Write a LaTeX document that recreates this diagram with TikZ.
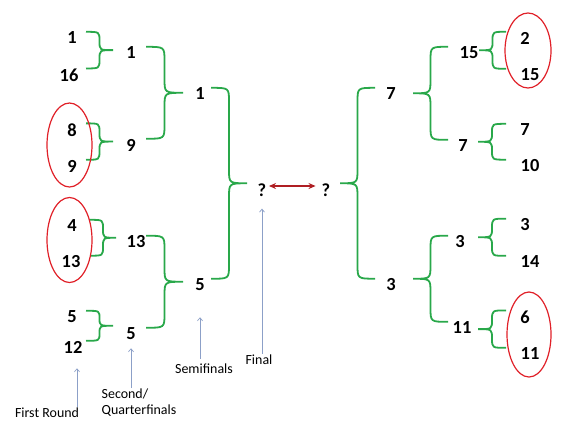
\documentclass[tikz,border=0pt]{standalone}
\usepackage{fontspec}
\setmainfont{Carlito}
\usetikzlibrary{calc}
\usetikzlibrary{arrows.meta}

\definecolor{bracketgreen}{RGB}{41,168,74}
\definecolor{ringred}{RGB}{224,32,40}
\definecolor{arrowred}{RGB}{175,30,35}
\definecolor{pointerblue}{RGB}{140,160,200}

%% curly bracket joining two entries
%% #1,#2: upper and lower entry, #3: x of the ends, #4: x of the tip
\newcommand{\mybracket}[4]{%
  \draw[bracket] let \p1=(#1.north), \p2=(#2.north), \p3=(#3,0), \p4=(#4,0),
        \n1={(\y1+\y2)/2}, \n2={(\x3+\x4)/2}, \n3={min(14pt,(\y1-\y2)/4)} in
    (\x3,\y1) .. controls (\n2,\y1) .. (\n2,\y1-\n3)
    -- (\n2,\n1+\n3) .. controls (\n2,\n1) .. (\x4,\n1)
    .. controls (\n2,\n1) .. (\n2,\n1-\n3)
    -- (\n2,\y2+\n3) .. controls (\n2,\y2) .. (\x3,\y2);
}

\begin{document}
\begin{tikzpicture}[x=1bp,y=-1bp,
  team/.style={font=\bfseries\fontsize{18.5}{20}\selectfont, inner sep=0pt},
  label/.style={font=\fontsize{14}{16}\selectfont, inner sep=1pt, align=left},
  bracket/.style={draw=bracketgreen, line width=1.8bp},
  ring/.style={draw=ringred, line width=1.2bp},
  pointer/.style={draw=pointerblue, line width=0.7bp,
                  -{Straight Barb[length=3bp,width=5bp]}},
  final/.style={draw=arrowred, line width=1.6bp,
                {Stealth[length=7bp,width=6bp]}-{Stealth[length=7bp,width=6bp]}}]

  \useasboundingbox (0,0) rectangle (584,430);

  %% the entries, round by round
  \foreach \myname/\mytext/\myx/\myy in {
      a1/1/72/38, a16/16/69/75, a8/8/72/130, a9/9/72/166,
      a4/4/72/226, a13/13/71/262, a5/5/72/317, a12/12/73/347,
      b1/1/131/53, b9/9/131/145, b13/13/136/242, b5/5/131/334,
      c1/1/200/94, c5/5/200/285,
      fl/?/262/190, fr/?/326/190,
      c7/7/391/94, c3/3/391/285,
      b15/15/469/53, b7/7/463/146, b3/3/460/242, b11/11/462/328,
      a2/2/525/38, a15/15/530/75, a7/7/525/130, a10/10/530/166,
      a3/3/525/225, a14/14/530/262, a6/6/525/317, a11/11/530/354}
  {
    \node[team] (\myname) at (\myx,\myy) {\mytext};
  }

  %% left half
  \mybracket{a1}{a16}{86}{113}
  \mybracket{a8}{a9}{86}{113}
  \mybracket{a4}{a13}{90}{116}
  \mybracket{a5}{a12}{86}{113}
  \mybracket{b1}{b9}{146}{183}
  \mybracket{b13}{b5}{146}{183}
  \mybracket{c1}{c5}{211}{247}

  %% right half
  \mybracket{c7}{c3}{375}{340}
  \mybracket{b15}{b7}{448}{413}
  \mybracket{b3}{b11}{448}{413}
  \mybracket{a2}{a15}{506}{479}
  \mybracket{a7}{a10}{506}{478}
  \mybracket{a3}{a14}{506}{478}
  \mybracket{a6}{a11}{506}{478}

  %% upsets
  \draw[ring] ($(a8)!0.5!(a9)+(-2.5,-3)$) ellipse [x radius=22.5bp, y radius=42bp];
  \draw[ring] ($(a4)!0.5!(a13)+(-2,-4)$) ellipse [x radius=22.5bp, y radius=42.5bp];
  \draw[ring] ($(a2)!0.5!(a15)+(0.5,-6)$) ellipse [x radius=23bp, y radius=37.5bp];
  \draw[ring] ($(a6)!0.5!(a11)+(1.5,-1)$) ellipse [x radius=22bp, y radius=42.5bp];

  %% the final
  \draw[final, shorten <=2.5bp, shorten >=6bp]
    ([yshift=4bp]fl.east) -- ([yshift=4bp]fr.west);

  %% round labels
  \node[label] (lFirst) at (47,413) {First Round};
  \node[label] (lSecond) at (139,403) {Second/\\Quarterfinals};
  \node[label] (lSemi) at (204,369) {Semifinals};
  \node[label] (lFinal) at (259,360) {Final};

  \draw[pointer, shorten >=15bp] ([xshift=4bp]lFirst.north -| a12) -- ([xshift=4bp]a12.south);
  \draw[pointer, shorten >=8bp] (lSecond.north -| b5) -- (b5.south);
  \draw[pointer, shorten <=4bp, shorten >=26bp] (lSemi.north -| c5) -- (c5.south);
  \draw[pointer, shorten >=12bp] (lFinal.north -| fl) -- (fl.south);

\end{tikzpicture}
\end{document}
